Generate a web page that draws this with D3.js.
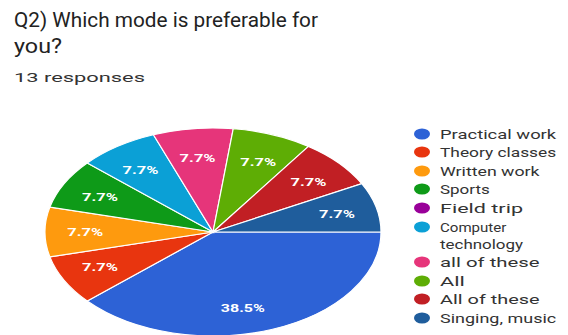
<!DOCTYPE html>
<html>
<head>
<meta charset="utf-8">
<script src="https://cdn.jsdelivr.net/npm/d3@7"></script>
<style>
  body { margin: 0; background: #fff; }
  svg { display: block; font-family: Roboto, "Open Sans", sans-serif; }
</style>
</head>
<body>
<div class="mainView"></div>
<script>
// chart data
let categories = ["Practical work", "Theory classes", "Written work", "Sports", "Field trip",
                  "Computer technology", "all of these", "All", "All of these", "Singing, music"];
let responses = [5, 1, 1, 1, 0, 1, 1, 1, 1, 1];
let colours = ["#2d62d6", "#e8350f", "#fe9a0e", "#0e9a18", "#990099",
               "#0ba0d6", "#e6357a", "#5ead05", "#c11f24", "#1f5d9c"];

function getConfig(){
    let width = 568, height = 335;
    let svg = d3.select(".mainView").append("svg")
        .attr("width", width)
        .attr("height", height);
    return { width, height, svg };
}

function drawTitle(config){
    let { svg } = config;
    svg.append("text")
        .attr("x", 14).attr("y", 27)
        .attr("textLength", 304).attr("lengthAdjust", "spacingAndGlyphs")
        .style("font-size", "20px").style("fill", "#222")
        .text("Q2) Which mode is preferable for");
    svg.append("text")
        .attr("x", 14).attr("y", 53)
        .attr("textLength", 48).attr("lengthAdjust", "spacingAndGlyphs")
        .style("font-size", "20px").style("fill", "#222")
        .text("you?");
    svg.append("text")
        .attr("x", 14).attr("y", 82)
        .attr("textLength", 131).attr("lengthAdjust", "spacingAndGlyphs")
        .style("font-size", "13px").style("fill", "#333")
        .text("13 responses");
}

function drawPie(config){
    let { svg } = config;
    let cx = 213, cy = 232, rx = 168, ry = 104;
    let total = d3.sum(responses);
    let data = categories.map((c, i) => ({ name: c, value: responses[i], colour: colours[i] }));

    let pie = d3.pie()
        .value(d => d.value)
        .sort(null)
        .startAngle(Math.PI / 2)
        .endAngle(Math.PI / 2 + 2 * Math.PI);
    let arcs = pie(data).filter(d => d.data.value > 0);
    let arc = d3.arc().innerRadius(0).outerRadius(ry);

    let g = svg.append("g")
        .attr("transform", "translate(" + cx + "," + cy + ") scale(" + (rx / ry) + ",1)");
    g.selectAll("path")
        .data(arcs)
        .enter()
        .append("path")
        .attr("d", arc)
        .attr("fill", d => d.data.colour)
        .attr("stroke", "#fff")
        .attr("stroke-width", 1.2)
        .attr("vector-effect", "non-scaling-stroke");

    let fmt = d3.format(".1f");
    svg.append("g").selectAll("text")
        .data(arcs)
        .enter()
        .append("text")
        .attr("x", d => {
            let a = (d.startAngle + d.endAngle) / 2;
            let f = d.data.value > 2 ? 0.5 : 0.76;
            return cx + rx * f * Math.sin(a);
        })
        .attr("y", d => {
            let a = (d.startAngle + d.endAngle) / 2;
            let f = d.data.value > 2 ? 0.78 : 0.72;
            return cy - ry * f * Math.cos(a) + 4;
        })
        .attr("text-anchor", "middle")
        .attr("textLength", d => d.data.value > 2 ? 44 : 36)
        .attr("lengthAdjust", "spacingAndGlyphs")
        .style("font-size", "11px").style("font-weight", "bold")
        .style("fill", "#fff")
        .text(d => fmt(d.data.value / total * 100) + "%");
}

function drawLegend(config){
    let { svg } = config;
    // computer technology wraps onto two lines
    let rowsY = [134, 152, 171, 189, 208, 227, 262, 281, 299, 318];
    let lg = svg.append("g");
    categories.forEach((c, i) => {
        lg.append("ellipse")
            .attr("cx", 422).attr("cy", rowsY[i])
            .attr("rx", 8).attr("ry", 5.5)
            .attr("fill", colours[i]);
        let lines = c === "Computer technology" ? ["Computer", "technology"] : [c];
        lines.forEach((t, j) => {
            lg.append("text")
                .attr("x", 440).attr("y", rowsY[i] + 4.5 + j * 17)
                .attr("textLength", t.length * 8.3)
                .attr("lengthAdjust", "spacingAndGlyphs")
                .style("font-size", "13px").style("fill", "#333")
                .text(t);
        });
    });
}

let config = getConfig();
drawTitle(config);
drawPie(config);
drawLegend(config);
</script>
</body>
</html>
